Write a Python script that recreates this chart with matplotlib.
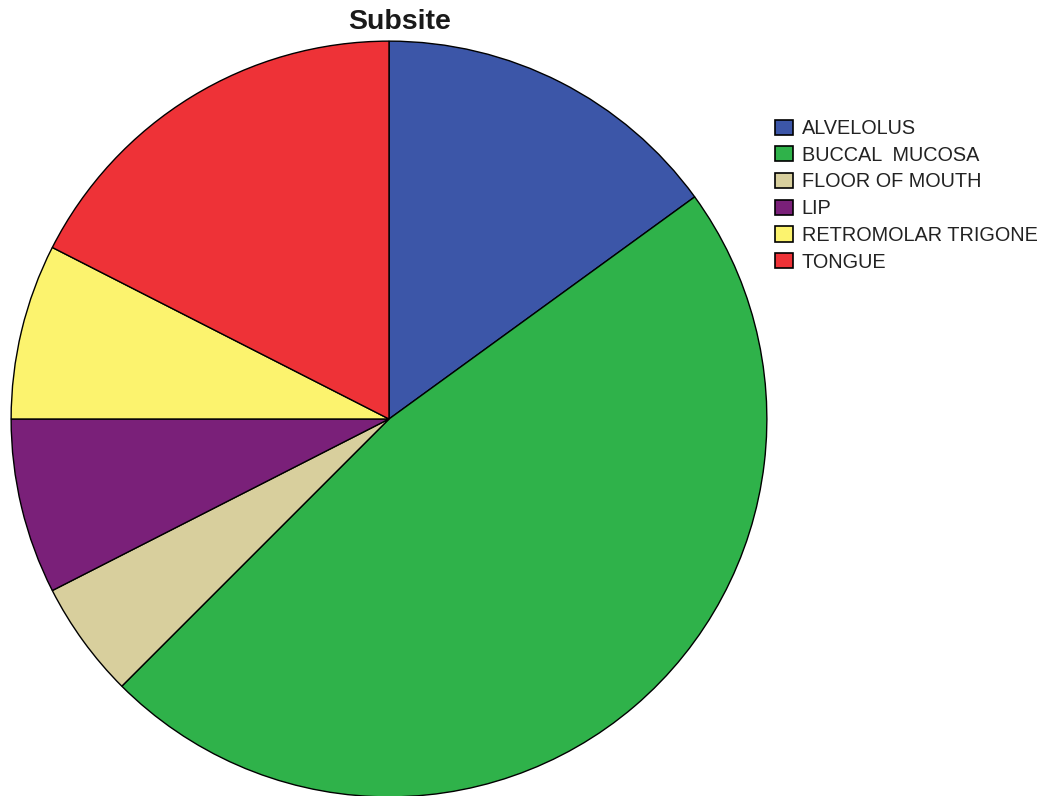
import matplotlib
matplotlib.use("Agg")
import matplotlib.pyplot as plt
from matplotlib.patches import Patch

categories = ["ALVELOLUS", "BUCCAL  MUCOSA", "FLOOR OF MOUTH", "LIP", "RETROMOLAR TRIGONE", "TONGUE"]
counts = [6, 19, 2, 3, 3, 7]
colors = ["#3c56a8", "#2fb24a", "#d8cf9d", "#7a2079", "#fcf36e", "#ee3237"]

plt.rcParams['font.family'] = ['Liberation Sans', 'DejaVu Sans']

W, H = 1047, 796
fig = plt.figure(figsize=(W / 100, H / 100), dpi=100)
cx, cy, r = 389, 419, 379
ax = fig.add_axes([(cx - r) / W, (H - cy - r) / H, 2 * r / W, 2 * r / H])
ax.pie(counts, colors=colors, startangle=90, counterclock=False, radius=1,
       wedgeprops=dict(edgecolor="black", linewidth=1.0))
ax.set_xlim(-1.003, 1.003)
ax.set_ylim(-1.003, 1.003)
ax.set_aspect("equal")
ax.axis("off")

fig.text(400 / W, 1 - 22 / H, "Subsite", ha="center", va="center",
         fontsize=20.5, fontweight="bold", color="#1a1a1a")

handles = [Patch(facecolor=c, edgecolor="black", linewidth=1.2) for c in colors]
fig.legend(handles, categories, loc="upper left",
           bbox_to_anchor=(775 / W, 1 - 119 / H), frameon=False,
           fontsize=14.3, handlelength=0.93, handleheight=0.8,
           handletextpad=0.42, labelspacing=0.39, borderaxespad=0,
           borderpad=0, labelcolor="#222222")

fig.savefig("out.png", dpi=100, facecolor="white")
